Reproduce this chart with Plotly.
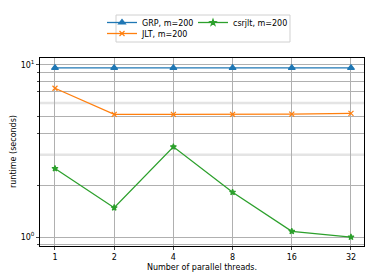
import plotly.graph_objects as go
import math

threads = [1, 2, 4, 8, 16, 32]
grp = [9.6, 9.6, 9.6, 9.6, 9.6, 9.6]
jlt = [7.3, 5.15, 5.15, 5.15, 5.17, 5.22]
csrjlt = [2.5, 1.48, 3.34, 1.82, 1.08, 1.0]

names = ["GRP, m=200", "JLT, m=200", "csrjlt, m=200"]
colors = ["#1f77b4", "#ff7f0e", "#2ca02c"]
symbols = ["triangle-up", "x-thin-open", "star"]
sizes = [6, 5, 4.5]
legends = ["legend", "legend3", "legend2"]

# page body has an 8px margin; the figure is sized to sit at the right spot
W, H, OFF = 366, 272, 8

fig = go.Figure()
series = [grp, jlt, csrjlt]
for s, n, c, sym, sz, lg in zip(series, names, colors, symbols, sizes, legends):
    fig.add_trace(go.Scatter(
        x=threads, y=s, name=n, mode="lines+markers",
        line=dict(color=c, width=1.3),
        marker=dict(symbol=sym, size=sz, color=c,
                    line=dict(color=c, width=1.2)),
        legend=lg,
    ))

# lighter bands seen at 3 and 6
for v in [3, 6]:
    fig.add_hline(y=v, line=dict(color="#e4e4e4", width=2.5), layer="below")

# legend frame
fig.add_shape(type="rect", xref="paper", yref="paper",
              x0=0.2346, x1=0.7716, y0=1.0851, y1=1.2287,
              line=dict(color="#d0d0d0", width=1), fillcolor="rgba(0,0,0,0)")

# y-axis title
fig.add_annotation(text="runtime (seconds)", textangle=-90, xref="paper", yref="paper",
                   x=-0.0833, y=0.5, xanchor="center", yanchor="middle",
                   showarrow=False, font=dict(size=8))

l2 = math.log10(2)
leg_common = dict(xref="container", yref="container", yanchor="top", xanchor="left",
                  bgcolor="rgba(0,0,0,0)", borderwidth=0, itemwidth=30,
                  font=dict(size=8), tracegroupgap=0)
fig.update_layout(
    width=W, height=H,
    margin=dict(l=40 - OFF, r=10, t=58 - OFF, b=34, autoexpand=False),
    paper_bgcolor="white", plot_bgcolor="white",
    font=dict(family="DejaVu Sans", size=8, color="black"),
    showlegend=True,
    legend=dict(x=(102 - OFF) / W, y=1 - (7 - OFF) / H, **leg_common),
    legend2=dict(x=(193 - OFF) / W, y=1 - (7 - OFF) / H, **leg_common),
    legend3=dict(x=(102 - OFF) / W, y=1 - (19 - OFF) / H, **leg_common),
    xaxis=dict(type="log", range=[-0.253 * l2, math.log10(32) + 0.22 * l2],
               tickvals=threads, ticktext=[str(t) for t in threads],
               showgrid=True, gridcolor="#b0b0b0", gridwidth=1,
               showline=True, linecolor="black", linewidth=1, mirror=True,
               ticks="outside", ticklen=3, zeroline=False,
               title=dict(text="Number of parallel threads.", standoff=3, font=dict(size=8))),
    yaxis=dict(type="log", range=[-0.052, 1.039],
               tickvals=[1, 10], ticktext=["10<sup>0</sup>", "10<sup>1</sup>"],
               showgrid=True, gridcolor="#b0b0b0", gridwidth=1,
               showline=True, linecolor="black", linewidth=1, mirror=True,
               ticks="outside", ticklen=3, zeroline=False,
               minor=dict(tickvals=[0.9, 2, 4, 5, 7, 8, 9, 11], showgrid=True,
                          gridcolor="#b0b0b0", gridwidth=1, ticks="outside", ticklen=2)),
)

fig.write_html("out.html", config={"displayModeBar": False})
